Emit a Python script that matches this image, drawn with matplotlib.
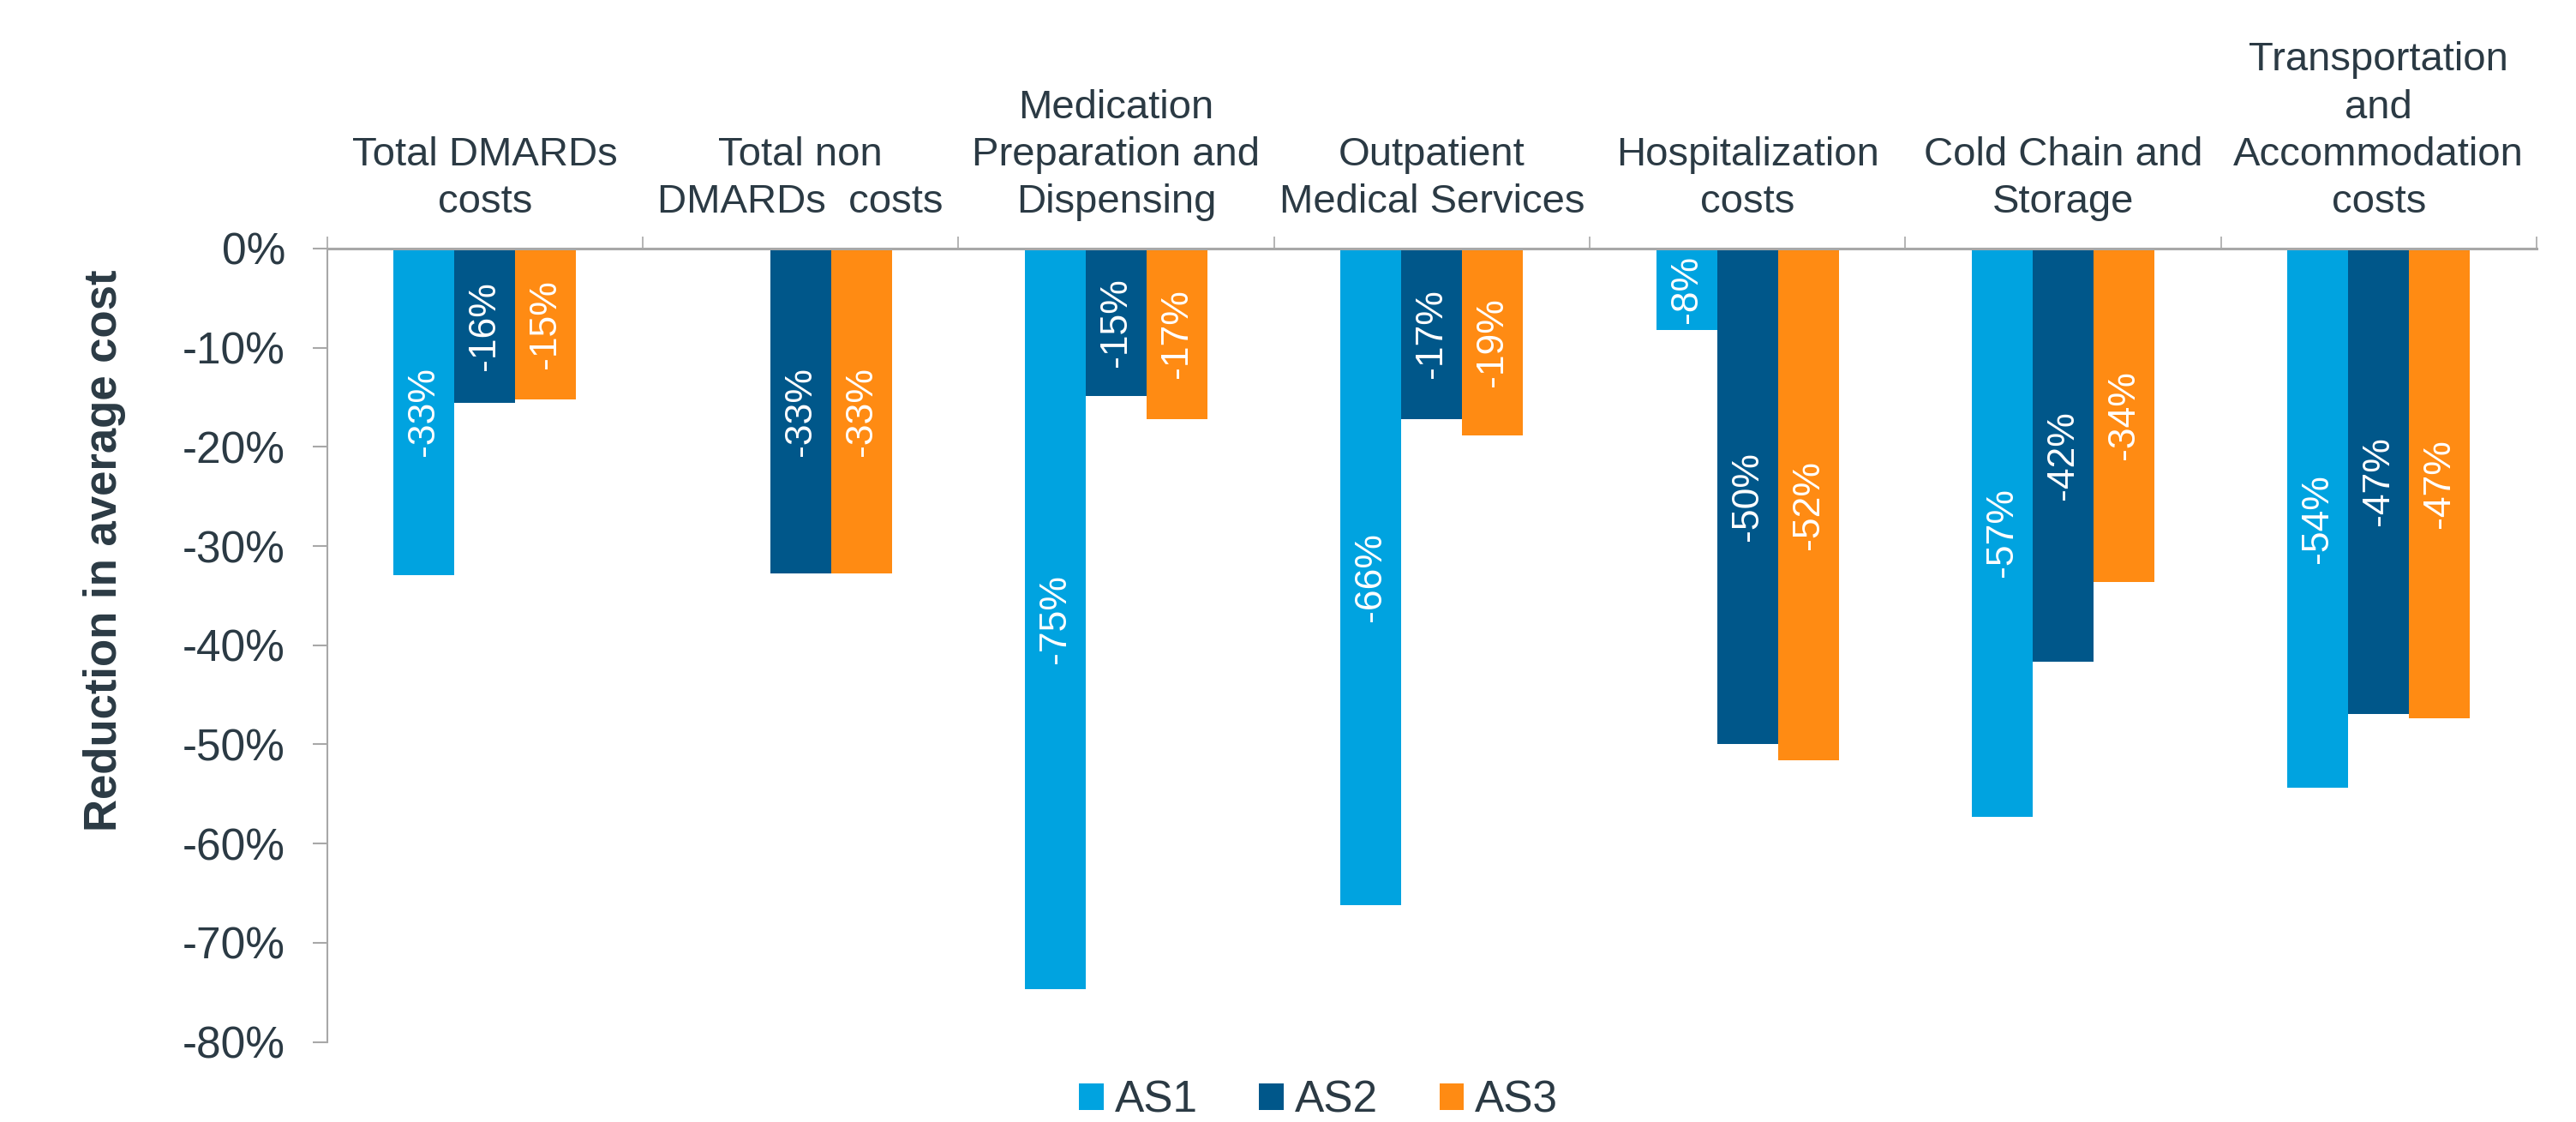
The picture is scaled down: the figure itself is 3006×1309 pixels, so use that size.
import numpy as np
import matplotlib
matplotlib.use("Agg")
import matplotlib.pyplot as plt
from matplotlib.ticker import FuncFormatter, FixedLocator

plt.rcParams['font.family'] = ['Liberation Sans', 'DejaVu Sans']

categories = ["Total DMARDs\ncosts", "Total non\nDMARDs  costs",
              "Medication\nPreparation and\nDispensing",
              "Outpatient\nMedical Services", "Hospitalization\ncosts",
              "Cold Chain and\nStorage",
              "Transportation\nand\nAccommodation\ncosts"]
series_names = ["AS1", "AS2", "AS3"]
as1 = [-0.329, np.nan, -0.747, -0.662, -0.082, -0.573, -0.544]
as2 = [-0.156, -0.328, -0.149, -0.172, -0.500, -0.417, -0.469]
as3 = [-0.152, -0.328, -0.172, -0.188, -0.516, -0.336, -0.474]
yticks = [0, -0.1, -0.2, -0.3, -0.4, -0.5, -0.6, -0.7, -0.8]
ylabel = "Reduction in average cost"

colors = ["#00A3E0", "#00578A", "#FF8B13"]
text_color = "#2B3A44"
grey = "#A8A8A8"

W, H, DPI = 3006, 1309, 100
fig = plt.figure(figsize=(W / DPI, H / DPI), dpi=DPI)
ax = fig.add_axes([381.6 / W, 1 - 1215.6 / H, (2960 - 381.6) / W, (1215.6 - 290) / H])

x = np.arange(len(categories))
bw = 0.193
for i, (vals, name, c) in enumerate(zip([as1, as2, as3], series_names, colors)):
    pos = x + (i - 1) * bw
    v = np.array(vals, dtype=float)
    ax.bar(pos, np.nan_to_num(v), width=bw, color=c, label=name, linewidth=0)
    for p, val in zip(pos, v):
        if np.isnan(val):
            continue
        ax.text(p, val / 2, f"{round(val * 100):d}%", rotation=90, ha='center', va='center',
                color='white', fontsize=32)

ax.set_xlim(-0.5, len(categories) - 0.5)
ax.set_ylim(-0.8, 0)
ax.yaxis.set_major_locator(FixedLocator(yticks))
ax.yaxis.set_major_formatter(FuncFormatter(lambda v, p: f"{round(v * 100):d}%"))
ax.tick_params(axis='y', labelsize=37, labelcolor=text_color, color=grey, width=1.5,
               length=12, pad=23)

ax.xaxis.set_ticks_position('top')
ax.set_xticks(np.arange(-0.5, len(categories), 1.0))
ax.set_xticklabels([])
ax.set_xticks(x, minor=True)
ax.set_xticklabels(categories, minor=True)
ax.tick_params(axis='x', which='major', color=grey, width=1.2, length=10, direction='out')
ax.tick_params(axis='x', which='minor', length=0, pad=23, labelsize=34, labelcolor=text_color)
for lab in ax.get_xticklabels(minor=True):
    lab.set_linespacing(1.33)

for s in ['right', 'bottom']:
    ax.spines[s].set_visible(False)
ax.spines['left'].set_color(grey)
ax.spines['left'].set_linewidth(1.5)
ax.spines['top'].set_color(grey)
ax.spines['top'].set_linewidth(2.2)

fig.text(122 / W, 1 - 642 / H, ylabel, rotation=90, ha='center', va='center',
         fontsize=38, fontweight='bold', color=text_color)

leg = fig.legend(loc='center', bbox_to_anchor=(1538.5 / W, 1 - 1284 / H), ncol=3,
                 frameon=False, fontsize=37, handlelength=0.55, handleheight=0.55,
                 handletextpad=0.25, columnspacing=1.4, borderpad=0, borderaxespad=0)
for t in leg.get_texts():
    t.set_color(text_color)

fig.savefig("out.png", dpi=DPI)
